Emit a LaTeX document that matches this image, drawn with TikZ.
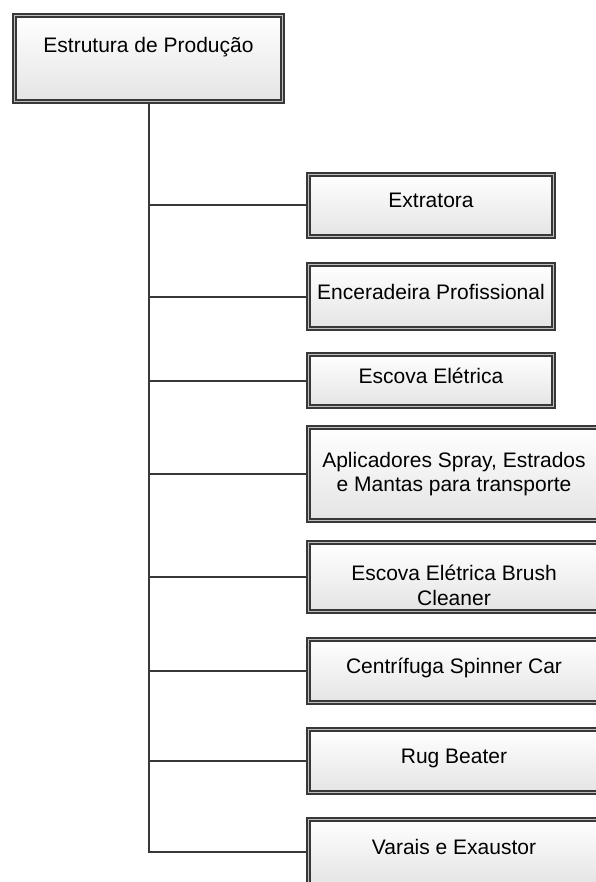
\documentclass[tikz,border=0pt]{standalone}
\usepackage{fontspec}
\setmainfont{Liberation Sans}
\usetikzlibrary{shadows}
\definecolor{edge}{HTML}{383838}
\definecolor{gap}{HTML}{BEBEBE}
\definecolor{fillbot}{HTML}{E4E4E4}
\begin{document}
\begin{tikzpicture}[x=1pt,y=-1pt,
  box/.style={draw=edge, line width=1.7pt, double=gap, double distance=1.3pt,
    top color=white, bottom color=fillbot, inner sep=2pt,
    font=\fontsize{21}{23.5}\selectfont, align=center,
    drop shadow={shadow xshift=1.5pt, shadow yshift=-2.5pt, fill=black!30, opacity=0.45}},
  oneline/.style={text height=0.75em, text depth=0.25em},
  link/.style={draw=edge, line width=2pt}]
\useasboundingbox (0,0) rectangle (595,882);
\node[box, minimum width=268.3pt, minimum height=86.3pt,
  label={[font=\fontsize{21}{23.5}\selectfont, yshift=11pt]center:Estrutura de Produção}]
  (root) at (148.5,58.5) {};
\node[box, oneline, minimum width=245.3pt, minimum height=62.3pt] (c1) at (431,205.5) {Extratora};
\node[box, oneline, minimum width=245.3pt, minimum height=64.3pt] (c2) at (431,296.5) {Enceradeira Profissional};
\node[box, oneline, minimum width=245.3pt, minimum height=52.3pt] (c3) at (431,380.5) {Escova Elétrica};
\node[box, minimum width=291.3pt, minimum height=93.3pt] (c4) at (454,474) {Aplicadores Spray, Estrados\\e Mantas para transporte};
\node[box, minimum width=291.3pt, minimum height=69.3pt,
  label={[font=\fontsize{21}{25}\selectfont, align=center, yshift=-8pt]center:Escova Elétrica Brush\\Cleaner}]
  (c5) at (454,577) {};
\node[box, oneline, minimum width=291.3pt, minimum height=63.3pt] (c6) at (454,671) {Centrífuga Spinner Car};
\node[box, oneline, minimum width=291.3pt, minimum height=63.3pt] (c7) at (454,761) {Rug Beater};
\node[box, oneline, minimum width=291.3pt, minimum height=65.3pt] (c8) at (454,852) {Varais e Exaustor};
\draw[link] (root.south) -- (root.south |- c8.west) -- (c8.west);
\foreach \n in {c1,c2,c3,c4,c5,c6,c7}
  \draw[link] (root.south |- \n.west) -- (\n.west);
\end{tikzpicture}
\end{document}
